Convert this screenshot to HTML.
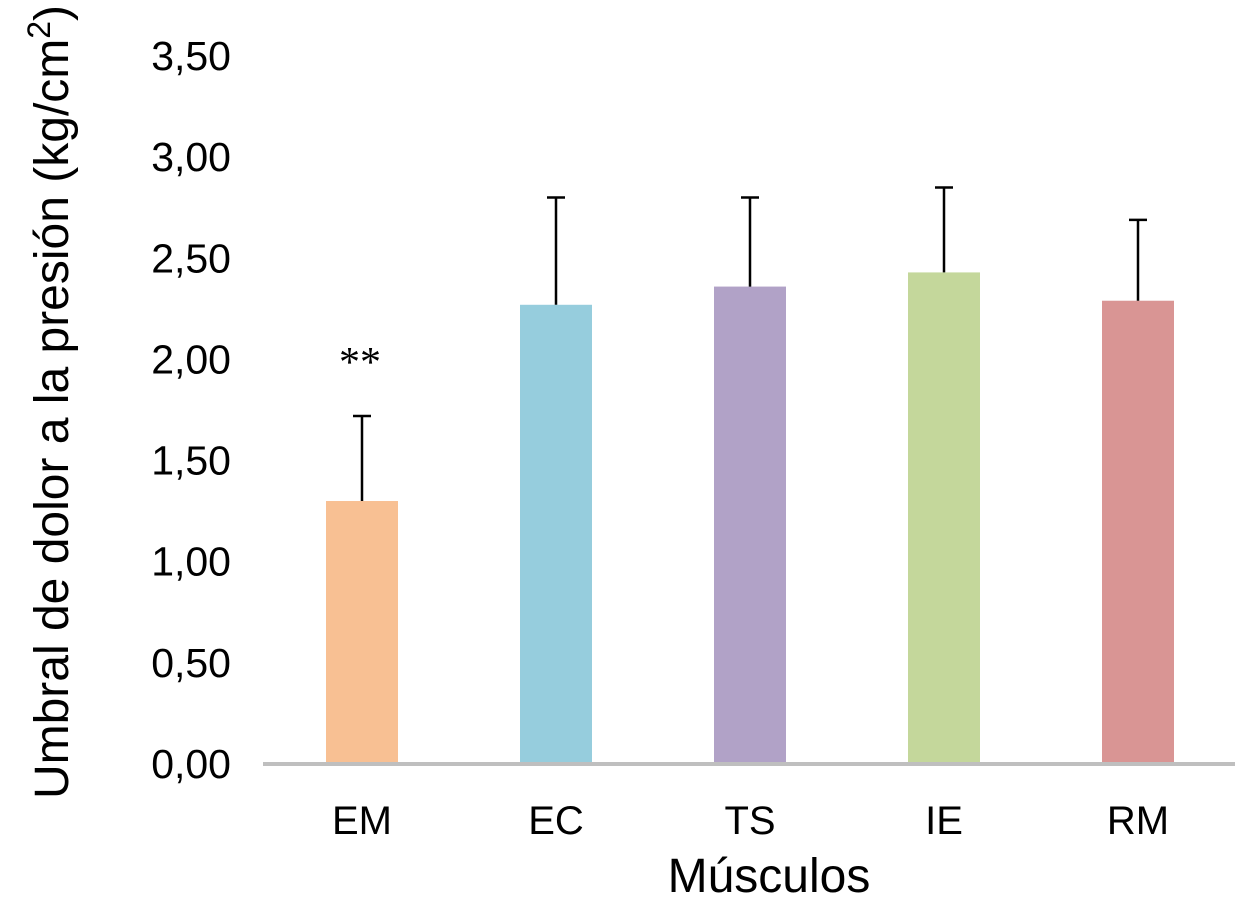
<!DOCTYPE html>
<html><head><meta charset="utf-8"><style>
html,body{margin:0;padding:0;background:#fff;}
svg{display:block;font-family:"Liberation Sans",sans-serif;}
</style></head><body>
<svg id="chart" width="1235" height="904"></svg>
<script>
const categories=["EM","EC","TS","IE","RM"];
const means=[1.30,2.27,2.36,2.43,2.29];
const errTops=[1.72,2.80,2.80,2.85,2.69];
const colors=["#f8c093","#96cddd","#b1a2c7","#c4d79b","#d99594"];
const ticks=[0,0.5,1,1.5,2,2.5,3,3.5];
const tickLabels=["0,00","0,50","1,00","1,50","2,00","2,50","3,00","3,50"];
const sig=["**","","","",""];
const NS="http://www.w3.org/2000/svg";
const svg=document.getElementById("chart");
const y0=764,pxPer=202.3,x0=362,step=194,bw=72;
const ys=v=>y0-v*pxPer, xs=i=>x0+i*step;
function mk(t,a,txt){const e=document.createElementNS(NS,t);for(const k in a)e.setAttribute(k,a[k]);if(txt!==undefined)e.textContent=txt;svg.appendChild(e);return e;}
ticks.forEach((t,i)=>{
 const e=mk("text",{x:231,y:ys(t)+14,"text-anchor":"end","font-size":41,fill:"#000"},tickLabels[i]);
 
 
});
categories.forEach((c,i)=>{
 const cx=xs(i);
 const b=mk("rect",{x:cx-bw/2,y:ys(means[i]),width:bw,height:ys(0)-ys(means[i]),fill:colors[i]});
 
 
 const l=mk("line",{x1:cx,x2:cx,y1:ys(means[i]),y2:ys(errTops[i]),stroke:"#000","stroke-width":2.5});
 
 
 const cap=mk("line",{x1:cx-9,x2:cx+9,y1:ys(errTops[i]),y2:ys(errTops[i]),stroke:"#000","stroke-width":2.5});
 
 
 const t=mk("text",{x:cx,y:834,"text-anchor":"middle","font-size":40,fill:"#000"},c);
 
 
 if(sig[i]){const s=mk("text",{x:cx-2,y:ys(errTops[i])-40,"text-anchor":"middle","font-size":42,"font-family":"Liberation Serif, serif",fill:"#000"},sig[i]);
 
 }
});
const ax=mk("line",{x1:263,x2:1235,y1:y0,y2:y0,stroke:"#bfbfbf","stroke-width":4});


</script>
<div style="position:absolute;left:0;top:0;width:1235px;height:904px;pointer-events:none">
<svg width="1235" height="904" style="position:absolute;left:0;top:0">
<text x="769" y="892" text-anchor="middle" font-size="48" font-family="Liberation Sans, sans-serif">Músculos</text>
<text transform="translate(68,402) rotate(-90)" text-anchor="middle" font-size="48" font-family="Liberation Sans, sans-serif">Umbral de dolor a la presión (kg/cm<tspan dy="-18" font-size="32">2</tspan><tspan dy="18">)</tspan></text>
</svg></div>
</body></html>
